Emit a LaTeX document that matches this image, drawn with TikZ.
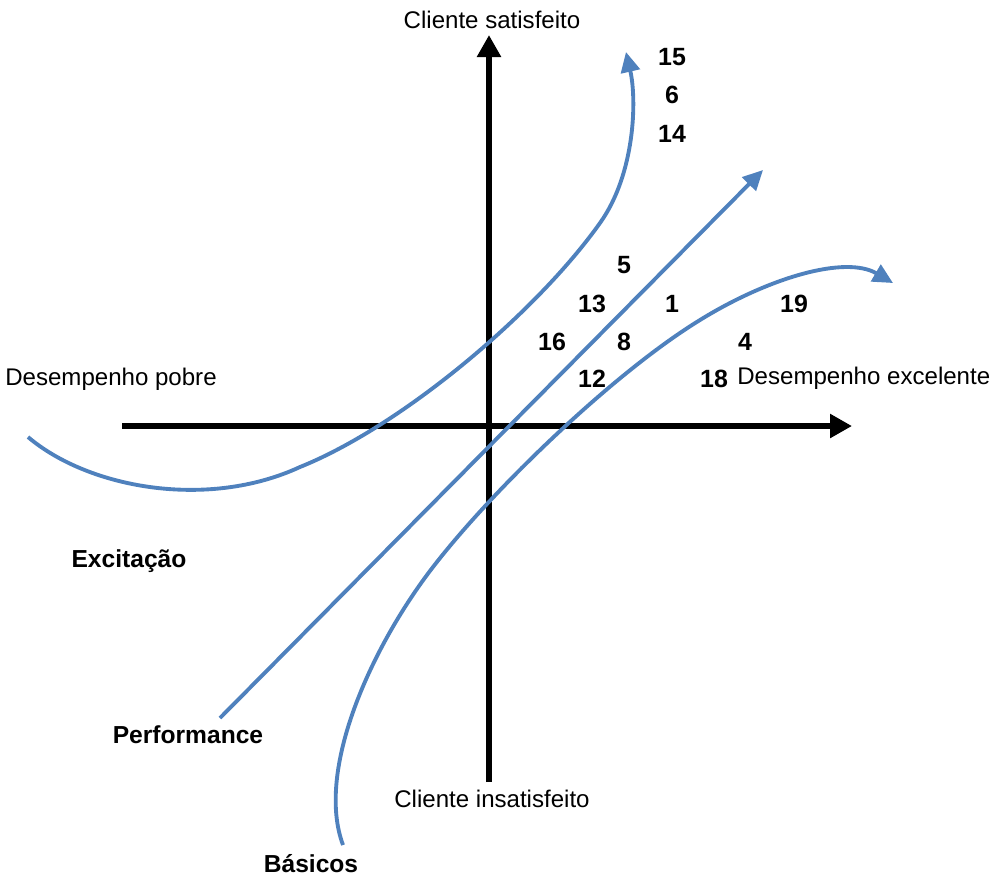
\documentclass[tikz,border=0pt]{standalone}
\usepackage{fontspec}
\setmainfont{Liberation Sans}
\usetikzlibrary{arrows.meta}
\definecolor{curveblue}{RGB}{79,129,189}
\begin{document}
\begin{tikzpicture}[x=0.02cm,y=-0.02cm,
  axis/.style={line width=3.4pt, -{Triangle[length=0.44cm,width=0.46cm]}},
  kcurve/.style={curveblue, line width=2.2pt, -{Triangle[length=0.4cm,width=0.38cm]}},
  lbl/.style={font=\fontsize{13.7}{16}\selectfont, inner sep=0pt, anchor=base},
  blbl/.style={font=\bfseries\fontsize{14}{16}\selectfont, inner sep=0pt, anchor=base},
  num/.style={font=\bfseries\fontsize{14.2}{16}\selectfont, inner sep=0pt, anchor=base}]
\useasboundingbox (0,0) rectangle (998,877);

% axes
\coordinate (xl) at (122,426);
\coordinate (xr) at (852,426);
\coordinate (yb) at (489,782);
\coordinate (yt) at (489,35);
\draw[axis] (xl) -- (xr);
\draw[axis] (yb) -- (yt);

% Excitacao curve
\coordinate (e0) at (28,437);
\coordinate (e1) at (300,467);
\coordinate (e2) at (600,223);
\coordinate (e3) at (626,52);
\draw[kcurve] (e0) .. controls (88,488) and (207,510) .. (e1)
  .. controls (402,426) and (536,313) .. (e2)
  .. controls (635,174) and (637,100) .. (e3);

% Performance line
\coordinate (pb) at (220,718);
\coordinate (pt) at (763,170);
\draw[kcurve] (pb) -- (pt);

% Basicos curve
\coordinate (b0) at (343,845);
\coordinate (b1) at (433,567);
\coordinate (b2) at (700,320);
\coordinate (b3) at (893,283);
\draw[kcurve] (b0) .. controls (315,770) and (372,646) .. (b1)
  .. controls (494,488) and (615,372) .. (b2)
  .. controls (768,278) and (845,255) .. (b3);

% axis labels
\node[lbl] (sat) at (492,28) {Cliente satisfeito};
\node[lbl] (insat) at (492,807) {Cliente insatisfeito};
\node[lbl] (pobre) at (111,385) {Desempenho pobre};
\node[lbl, anchor=base west] (exc) at (737,384) {Desempenho excelente};

% category labels
\node[blbl] (excit) at (129,567) {Excitação};
\node[blbl] (perf) at (188,743) {Performance};
\node[blbl] (bas) at (311,872) {Básicos};

% numbers
\node[num] (n15) at (672,65) {15};
\node[num] (n6) at (672,103) {6};
\node[num] (n14) at (672,142) {14};
\node[num] (n5) at (624,273) {5};
\node[num] (n13) at (592,312) {13};
\node[num] (n1) at (672,312) {1};
\node[num] (n19) at (794,312) {19};
\node[num] (n16) at (552,350) {16};
\node[num] (n8) at (624,350) {8};
\node[num] (n4) at (745,350) {4};
\node[num] (n12) at (592,387) {12};
\node[num] (n18) at (714,387) {18};
\end{tikzpicture}
\end{document}
